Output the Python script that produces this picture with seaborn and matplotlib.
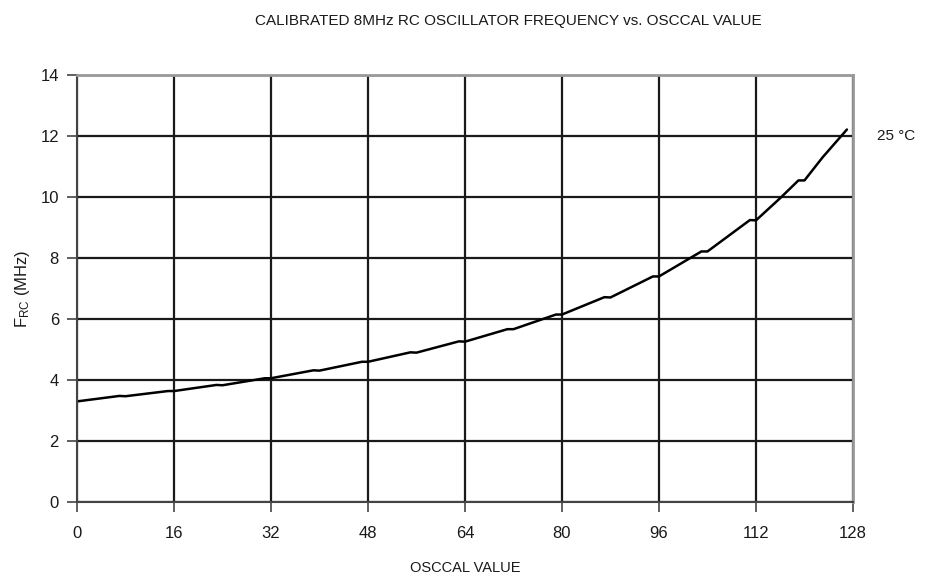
import matplotlib
matplotlib.use("Agg")
from matplotlib import pyplot as plt
import seaborn as sns
import pandas as pd

# OSCCAL value vs calibrated RC oscillator frequency (25 °C)
osccal = [0, 7, 8, 15, 16, 23, 24, 31, 32, 39, 40, 47, 48, 55, 56, 63, 64,
          71, 72, 79, 80, 87, 88, 95, 96, 103, 104, 111, 112, 116, 119, 120,
          123, 127]
freq_mhz = [3.30, 3.48, 3.47, 3.64, 3.64, 3.84, 3.83, 4.06, 4.06, 4.32, 4.31,
            4.60, 4.60, 4.91, 4.90, 5.27, 5.26, 5.67, 5.67, 6.15, 6.15, 6.72,
            6.71, 7.40, 7.40, 8.22, 8.22, 9.25, 9.24, 9.97, 10.55, 10.55,
            11.31, 12.22]
x_ticks = [0, 16, 32, 48, 64, 80, 96, 112, 128]
y_ticks = [0, 2, 4, 6, 8, 10, 12, 14]

df = pd.DataFrame({"osccal": osccal, "freq": freq_mhz})

sns.set_theme(style="white")
plt.rcParams["font.family"] = ["Liberation Sans", "DejaVu Sans"]
plt.rcParams["mathtext.default"] = "regular"

fig = plt.figure(figsize=(9.32, 5.79), dpi=100)
ax = fig.add_axes([0.0826, 0.133, 0.8326, 0.737])

sns.lineplot(data=df, x="osccal", y="freq", color="black", linewidth=1.8, ax=ax)

ax.set_xlim(0, 128)
ax.set_ylim(0, 14)
ax.set_xticks(x_ticks)
ax.set_yticks(y_ticks)
ax.grid(True, color="#1a1a1a", linewidth=1.6)
ax.set_axisbelow(True)
ax.tick_params(axis="both", which="major", direction="out", length=7, width=1.2,
               color="#444444", labelsize=12, labelcolor="#1a1a1a",
               bottom=True, left=True)
ax.tick_params(axis="x", pad=10)
ax.tick_params(axis="y", pad=6)
for side in ["left", "bottom"]:
    ax.spines[side].set_color("#444444")
    ax.spines[side].set_linewidth(1.5)
for side in ["top", "right"]:
    ax.spines[side].set_color("#999999")
    ax.spines[side].set_linewidth(2)

ax.set_xlabel("OSCCAL VALUE", fontsize=10.5, color="#1a1a1a", labelpad=15)
ax.set_ylabel(r"F$_{RC}$ (MHz)", fontsize=12, color="#1a1a1a", labelpad=6)

ax.text(132, 12.0, "25 °C", fontsize=11, color="#1a1a1a", va="center",
        clip_on=False)
fig.text(0.545, 0.963, "CALIBRATED 8MHz RC OSCILLATOR FREQUENCY vs. OSCCAL VALUE",
         ha="center", va="center", fontsize=11, color="#1a1a1a")

fig.savefig("out.png", dpi=100)
